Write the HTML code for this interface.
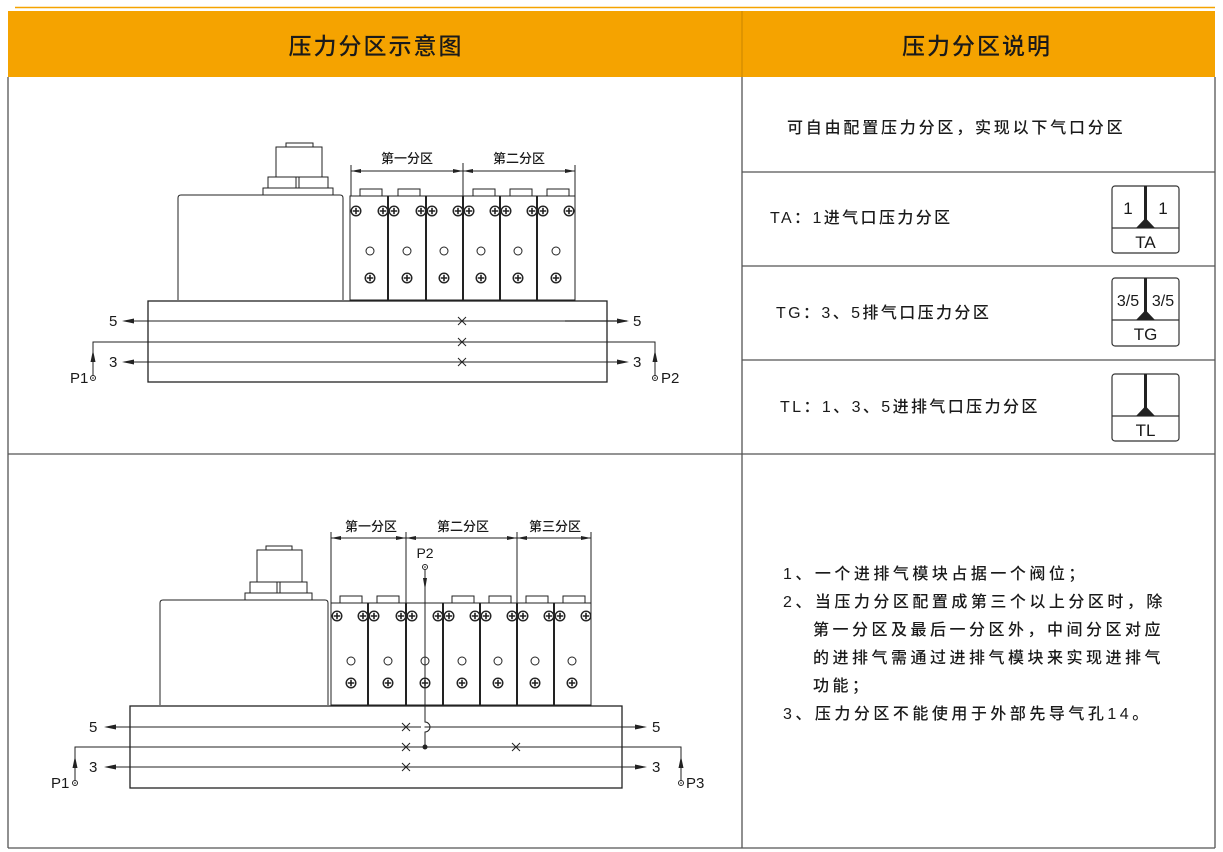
<!DOCTYPE html>
<html><head><meta charset="utf-8"><style>
html,body{margin:0;padding:0;background:#fff;}
svg{display:block;}
text{font-family:"Liberation Sans","Noto Sans CJK SC",sans-serif;fill:#1a1a1a;}
.m{font-weight:500;}
</style></head><body>
<svg width="1223" height="852" viewBox="0 0 1223 852" xmlns="http://www.w3.org/2000/svg">
<defs>
<symbol id="scr" viewBox="-5 -5 10 10" overflow="visible">
<circle cx="0" cy="0" r="4.8" fill="#fff" stroke="#222" stroke-width="1.4"/>
<path d="M-3.3 0H3.3M0 -3.3V3.3" stroke="#222" stroke-width="1.6"/>
</symbol>
</defs>

<!-- header -->
<line x1="15" y1="7.5" x2="1215" y2="7.5" stroke="#f5a300" stroke-width="1.5"/>
<rect x="8" y="11" width="1207" height="66" fill="#f5a300"/>
<line x1="742" y1="11" x2="742" y2="77" stroke="#c98400" stroke-width="1"/>
<text class="m" x="376" y="54" font-size="23" text-anchor="middle" letter-spacing="2">压力分区示意图</text>
<text class="m" x="977" y="54" font-size="23" text-anchor="middle" letter-spacing="2">压力分区说明</text>

<!-- table lines -->
<g stroke="#555" stroke-width="1.3" fill="none">
<line x1="8" y1="77" x2="8" y2="848"/>
<line x1="1215" y1="77" x2="1215" y2="848"/>
<line x1="742" y1="77" x2="742" y2="848"/>
<line x1="8" y1="454" x2="1215" y2="454"/>
<line x1="8" y1="848" x2="1215" y2="848"/>
<line x1="742" y1="172" x2="1215" y2="172"/>
<line x1="742" y1="266" x2="1215" y2="266"/>
<line x1="742" y1="360" x2="1215" y2="360"/>
</g>

<!-- right text -->
<g class="m" font-size="16">
<text x="787" y="133" letter-spacing="2.8">可自由配置压力分区，实现以下气口分区</text>
<text x="770" y="223" letter-spacing="2.4">TA：1进气口压力分区</text>
<text x="776" y="318" letter-spacing="2.4">TG：3、5排气口压力分区</text>
<text x="780" y="412" letter-spacing="2.4">TL：1、3、5进排气口压力分区</text>
</g>

<!-- icons -->
<g stroke="#333" stroke-width="1.2" fill="#fff">
<rect x="1112" y="186" width="67" height="67" rx="3"/>
<line x1="1112" y1="228" x2="1179" y2="228"/>
<rect x="1112" y="278" width="67" height="68" rx="3"/>
<line x1="1112" y1="320" x2="1179" y2="320"/>
<rect x="1112" y="374" width="67" height="67" rx="3"/>
<line x1="1112" y1="416" x2="1179" y2="416"/>
</g>
<g fill="#222">
<rect x="1144" y="186" width="3" height="36"/><path d="M1136 228 L1145.5 218 L1155 228Z"/>
<rect x="1144" y="278" width="3" height="36"/><path d="M1136 320 L1145.5 310 L1155 320Z"/>
<rect x="1144" y="374" width="3" height="36"/><path d="M1136 416 L1145.5 406 L1155 416Z"/>
</g>
<text x="1128" y="214" font-size="17" text-anchor="middle">1</text>
<text x="1163" y="214" font-size="17" text-anchor="middle">1</text>
<text x="1145.5" y="248" font-size="17" text-anchor="middle">TA</text>
<text x="1128" y="306" font-size="16" text-anchor="middle">3/5</text>
<text x="1163" y="306" font-size="16" text-anchor="middle">3/5</text>
<text x="1145.5" y="340" font-size="17" text-anchor="middle">TG</text>
<text x="1145.5" y="436" font-size="17" text-anchor="middle">TL</text>

<!-- lower right text -->
<g class="m" font-size="16" letter-spacing="3.5">
<text x="783" y="579">1、一个进排气模块占据一个阀位；</text>
<text x="783" y="607">2、当压力分区配置成第三个以上分区时，除</text>
<text x="813" y="635">第一分区及最后一分区外，中间分区对应</text>
<text x="813" y="663">的进排气需通过进排气模块来实现进排气</text>
<text x="813" y="691">功能；</text>
<text x="783" y="719">3、压力分区不能使用于外部先导气孔14。</text>
</g>

<!-- ===== TOP DIAGRAM ===== -->
<g stroke="#222" stroke-width="1" fill="#fff">
<path d="M178 300 V198 Q178 195 181 195 H340 Q343 195 343 198 V300"/>
<rect x="263" y="188" width="70" height="7"/>
<rect x="268" y="177" width="60" height="11"/>
<line x1="296" y1="177" x2="296" y2="188"/><line x1="299" y1="177" x2="299" y2="188"/>
<rect x="276" y="147" width="46" height="30"/>
<rect x="286" y="143" width="27" height="4"/>
<rect x="148" y="301" width="459" height="81" stroke-width="1.3"/>
</g>
<g stroke="#222" stroke-width="1" fill="#fff">
<rect x="360" y="189" width="22" height="7"/><rect x="398" y="189" width="22" height="7"/>
<rect x="473" y="189" width="22" height="7"/><rect x="510" y="189" width="22" height="7"/><rect x="547" y="189" width="22" height="7"/>
<rect x="350" y="196" width="38" height="104"/><rect x="388" y="196" width="38" height="104"/><rect x="426" y="196" width="37" height="104"/>
<rect x="463" y="196" width="37" height="104"/><rect x="500" y="196" width="37" height="104"/><rect x="537" y="196" width="38" height="104"/>
</g>
<g stroke="#222" stroke-width="2">
<line x1="388" y1="196" x2="388" y2="300"/><line x1="426" y1="196" x2="426" y2="300"/><line x1="463" y1="196" x2="463" y2="300"/><line x1="500" y1="196" x2="500" y2="300"/><line x1="537" y1="196" x2="537" y2="300"/>
</g>
<g fill="#fff" stroke="#222" stroke-width="1">
<circle cx="370" cy="251" r="4"/><circle cx="407" cy="251" r="4"/><circle cx="444" cy="251" r="4"/><circle cx="481" cy="251" r="4"/><circle cx="518" cy="251" r="4"/><circle cx="556" cy="251" r="4"/>
</g>
<g>
<use href="#scr" x="351" y="206" width="10" height="10"/><use href="#scr" x="378" y="206" width="10" height="10"/>
<use href="#scr" x="389" y="206" width="10" height="10"/><use href="#scr" x="416" y="206" width="10" height="10"/>
<use href="#scr" x="427" y="206" width="10" height="10"/><use href="#scr" x="453" y="206" width="10" height="10"/>
<use href="#scr" x="464" y="206" width="10" height="10"/><use href="#scr" x="490" y="206" width="10" height="10"/>
<use href="#scr" x="501" y="206" width="10" height="10"/><use href="#scr" x="527" y="206" width="10" height="10"/>
<use href="#scr" x="538" y="206" width="10" height="10"/><use href="#scr" x="564" y="206" width="10" height="10"/>
<use href="#scr" x="365" y="273" width="10" height="10"/><use href="#scr" x="402" y="273" width="10" height="10"/>
<use href="#scr" x="439" y="273" width="10" height="10"/><use href="#scr" x="476" y="273" width="10" height="10"/>
<use href="#scr" x="513" y="273" width="10" height="10"/><use href="#scr" x="551" y="273" width="10" height="10"/>
</g>
<g stroke="#222" stroke-width="1" fill="none">
<line x1="351" y1="165" x2="351" y2="196"/><line x1="463" y1="163" x2="463" y2="196"/><line x1="575" y1="165" x2="575" y2="196"/>
<line x1="351" y1="171" x2="575" y2="171"/>
</g>
<g fill="#222">
<path d="M351 171 l10 -2 v4z M463 171 l-10 -2 v4z M463 171 l10 -2 v4z M575 171 l-10 -2 v4z"/>
</g>
<text class="m" x="407" y="163" font-size="13" text-anchor="middle">第一分区</text>
<text class="m" x="519" y="163" font-size="13" text-anchor="middle">第二分区</text>
<g stroke="#222" stroke-width="1" fill="none">
<line x1="124" y1="321" x2="565" y2="321"/>
<line x1="565" y1="321" x2="627" y2="321" stroke-width="1.3"/>
<path d="M93 377 V342 H655 V377"/>
<line x1="124" y1="362" x2="627" y2="362"/>
<path d="M458 317 l8 8 M466 317 l-8 8 M458 338 l8 8 M466 338 l-8 8 M458 358 l8 8 M466 358 l-8 8"/>
</g>
<g fill="#222">
<path d="M122 321 l12 -2.5 v5z M122 362 l12 -2.5 v5z M629 321 l-12 -2.5 v5z M629 362 l-12 -2.5 v5z"/>
<path d="M93 350 l-2.5 12 h5z M655 350 l-2.5 12 h5z"/>
</g>
<circle cx="93" cy="378" r="2.5" fill="#fff" stroke="#222"/><circle cx="93" cy="378" r="0.8" fill="#222"/>
<circle cx="655" cy="378" r="2.5" fill="#fff" stroke="#222"/><circle cx="655" cy="378" r="0.8" fill="#222"/>
<g font-size="15">
<text x="109" y="326">5</text><text x="109" y="367">3</text>
<text x="633" y="326">5</text><text x="633" y="367">3</text>
<text x="70" y="383">P1</text><text x="661" y="383">P2</text>
</g>

<!-- ===== BOTTOM DIAGRAM ===== -->
<g stroke="#222" stroke-width="1" fill="#fff">
<path d="M160 705 V603 Q160 600 163 600 H325 Q328 600 328 603 V705"/>
<rect x="245" y="593" width="67" height="7"/>
<rect x="250" y="582" width="57" height="11"/>
<line x1="277" y1="582" x2="277" y2="593"/><line x1="280" y1="582" x2="280" y2="593"/>
<rect x="257" y="550" width="45" height="32"/>
<rect x="266" y="546" width="26" height="4"/>
<rect x="130" y="706" width="492" height="82" stroke-width="1.3"/>
</g>
<g stroke="#222" stroke-width="1" fill="#fff">
<rect x="340" y="596" width="22" height="7"/><rect x="377" y="596" width="22" height="7"/>
<rect x="452" y="596" width="22" height="7"/><rect x="489" y="596" width="22" height="7"/><rect x="526" y="596" width="22" height="7"/><rect x="563" y="596" width="22" height="7"/>
<rect x="331" y="603" width="37" height="102"/><rect x="368" y="603" width="38" height="102"/><rect x="406" y="603" width="37" height="102"/>
<rect x="443" y="603" width="37" height="102"/><rect x="480" y="603" width="37" height="102"/><rect x="517" y="603" width="37" height="102"/><rect x="554" y="603" width="37" height="102"/>
</g>
<g stroke="#222" stroke-width="2">
<line x1="368" y1="603" x2="368" y2="705"/><line x1="406" y1="603" x2="406" y2="705"/><line x1="443" y1="603" x2="443" y2="705"/><line x1="480" y1="603" x2="480" y2="705"/><line x1="517" y1="603" x2="517" y2="705"/><line x1="554" y1="603" x2="554" y2="705"/>
</g>
<g fill="#fff" stroke="#222" stroke-width="1">
<circle cx="351" cy="661" r="4"/><circle cx="388" cy="661" r="4"/><circle cx="425" cy="661" r="4"/><circle cx="462" cy="661" r="4"/><circle cx="498" cy="661" r="4"/><circle cx="535" cy="661" r="4"/><circle cx="572" cy="661" r="4"/>
</g>
<g>
<use href="#scr" x="332" y="611" width="10" height="10"/><use href="#scr" x="358" y="611" width="10" height="10"/>
<use href="#scr" x="369" y="611" width="10" height="10"/><use href="#scr" x="396" y="611" width="10" height="10"/>
<use href="#scr" x="407" y="611" width="10" height="10"/><use href="#scr" x="433" y="611" width="10" height="10"/>
<use href="#scr" x="444" y="611" width="10" height="10"/><use href="#scr" x="470" y="611" width="10" height="10"/>
<use href="#scr" x="481" y="611" width="10" height="10"/><use href="#scr" x="507" y="611" width="10" height="10"/>
<use href="#scr" x="518" y="611" width="10" height="10"/><use href="#scr" x="544" y="611" width="10" height="10"/>
<use href="#scr" x="555" y="611" width="10" height="10"/><use href="#scr" x="581" y="611" width="10" height="10"/>
<use href="#scr" x="346" y="678" width="10" height="10"/><use href="#scr" x="383" y="678" width="10" height="10"/>
<use href="#scr" x="420" y="678" width="10" height="10"/><use href="#scr" x="457" y="678" width="10" height="10"/>
<use href="#scr" x="493" y="678" width="10" height="10"/><use href="#scr" x="530" y="678" width="10" height="10"/>
<use href="#scr" x="567" y="678" width="10" height="10"/>
</g>
<g stroke="#222" stroke-width="1" fill="none">
<line x1="331" y1="532" x2="331" y2="603"/><line x1="406" y1="532" x2="406" y2="603"/><line x1="517" y1="532" x2="517" y2="603"/><line x1="591" y1="532" x2="591" y2="603"/>
<line x1="331" y1="538" x2="591" y2="538"/>
</g>
<g fill="#222">
<path d="M331 538 l10 -2 v4z M406 538 l-10 -2 v4z M406 538 l10 -2 v4z M517 538 l-10 -2 v4z M517 538 l10 -2 v4z M591 538 l-10 -2 v4z"/>
</g>
<text class="m" x="371" y="531" font-size="13" text-anchor="middle">第一分区</text>
<text class="m" x="463" y="531" font-size="13" text-anchor="middle">第二分区</text>
<text class="m" x="555" y="531" font-size="13" text-anchor="middle">第三分区</text>
<text x="425" y="558" font-size="14" text-anchor="middle">P2</text>
<circle cx="425" cy="567" r="2.5" fill="#fff" stroke="#222"/><circle cx="425" cy="567" r="0.8" fill="#222"/>
<g stroke="#222" stroke-width="1" fill="none">
<path d="M425 570 V722 A5 5 0 0 1 425 732 V747"/>
<line x1="106" y1="727" x2="645" y2="727"/>
<path d="M75 782 V747 H681 V782"/>
<line x1="106" y1="767" x2="645" y2="767"/>
<path d="M402 723 l8 8 M410 723 l-8 8 M402 743 l8 8 M410 743 l-8 8 M402 763 l8 8 M410 763 l-8 8 M512 743 l8 8 M520 743 l-8 8"/>
</g>
<rect x="421" y="722" width="3.5" height="10" fill="#fff"/>
<circle cx="425" cy="747" r="2.5" fill="#222"/>
<g fill="#222">
<path d="M425 590 l-2 -12 h4z"/>
<path d="M104 727 l12 -2.5 v5z M104 767 l12 -2.5 v5z M647 727 l-12 -2.5 v5z M647 767 l-12 -2.5 v5z"/>
<path d="M75 756 l-2.5 12 h5z M681 756 l-2.5 12 h5z"/>
</g>
<circle cx="75" cy="783" r="2.5" fill="#fff" stroke="#222"/><circle cx="75" cy="783" r="0.8" fill="#222"/>
<circle cx="681" cy="783" r="2.5" fill="#fff" stroke="#222"/><circle cx="681" cy="783" r="0.8" fill="#222"/>
<g font-size="15">
<text x="89" y="732">5</text><text x="89" y="772">3</text>
<text x="652" y="732">5</text><text x="652" y="772">3</text>
<text x="51" y="788">P1</text><text x="686" y="788">P3</text>
</g>
</svg>
</body></html>
